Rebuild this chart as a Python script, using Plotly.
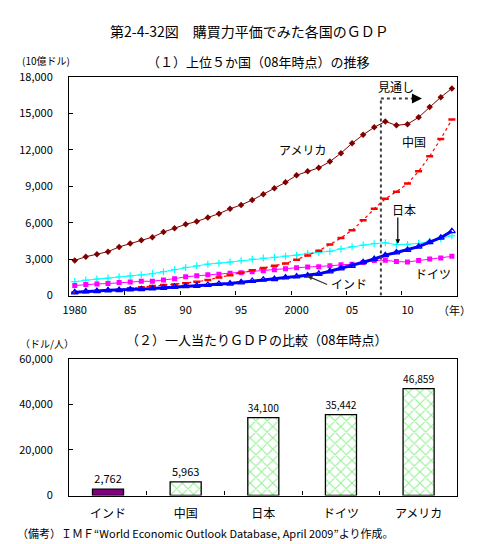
import plotly.graph_objects as go

W, H = 478, 544

years = list(range(1980, 2015))
usa = [2900, 3200, 3410, 3620, 4010, 4300, 4550, 4810, 5230, 5550,
       5870, 6110, 6430, 6750, 7150, 7470, 7870, 8360, 8840, 9330,
       9920, 10240, 10530, 11040, 11740, 12550, 13250, 13870, 14350, 14030,
       14130, 14690, 15540, 16350, 17070]
china = [260, 300, 340, 400, 480, 600, 680, 780, 880, 920,
         1020, 1130, 1290, 1480, 1680, 1880, 2080, 2280, 2450, 2650,
         2950, 3300, 3700, 4200, 4750, 5390, 6210, 7150, 7970, 8560,
         9230, 10240, 11490, 12910, 14510]
japan = [1150, 1280, 1360, 1440, 1550, 1630, 1710, 1810, 1970, 2130,
         2320, 2450, 2590, 2670, 2760, 2870, 3000, 3090, 3150, 3250,
         3330, 3470, 3550, 3650, 3840, 4030, 4160, 4280, 4350, 4190,
         4210, 4290, 4480, 4690, 4930]
germany = [830, 910, 960, 990, 1070, 1120, 1170, 1180, 1280, 1390,
           1550, 1630, 1710, 1760, 1840, 1890, 1970, 2050, 2130, 2210,
           2290, 2350, 2370, 2450, 2530, 2590, 2720, 2900, 2910, 2800,
           2770, 2880, 3010, 3090, 3230]
india = [270, 350, 370, 430, 450, 510, 530, 590, 640, 720,
         770, 800, 880, 960, 990, 1090, 1200, 1310, 1360, 1490,
         1570, 1650, 1790, 2000, 2240, 2450, 2750, 3010, 3330, 3550,
         3760, 4030, 4400, 4770, 5310]

x_tick_vals = [1980, 1985, 1990, 1995, 2000, 2005, 2010]
x_tick_text = ["1980", "85", "90", "95", "2000", "05", "10"]
y1_ticks = [0, 3000, 6000, 9000, 12000, 15000, 18000]
y1_text = ["0", "3,000", "6,000", "9,000", "12,000", "15,000", "18,000"]

bar_countries = ["インド", "中国", "日本", "ドイツ", "アメリカ"]
per_capita = [2762, 5963, 34100, 35442, 46859]
per_capita_text = ["2,762", "5,963", "34,100", "35,442", "46,859"]
y2_ticks = [0, 20000, 40000, 60000]
y2_text = ["0", "20,000", "40,000", "60,000"]

forecast_start = 2007.6

FONT = "Noto Sans CJK JP"


def px(x):
    return x / W


def py(y):
    return 1 - y / H


fig = go.Figure()

# Top chart lines
fig.add_trace(go.Scatter(x=years, y=japan, mode="lines+markers", name="日本",
                         line=dict(color="#00FFFF", width=1),
                         marker=dict(symbol="cross-thin", size=5, line=dict(color="#00FFFF", width=1.2)),
                         xaxis="x", yaxis="y"))
fig.add_trace(go.Scatter(x=years, y=germany, mode="lines+markers", name="ドイツ",
                         line=dict(color="#FF00FF", width=1),
                         marker=dict(symbol="square", size=5, color="#FF00FF"),
                         xaxis="x", yaxis="y"))
fig.add_trace(go.Scatter(x=years, y=china, mode="lines+markers", name="中国",
                         line=dict(color="#FF0000", width=1.2, dash="3px,3px"),
                         marker=dict(symbol="line-ew", size=5, line=dict(color="#FF0000", width=2.5)),
                         xaxis="x", yaxis="y"))
fig.add_trace(go.Scatter(x=years, y=india, mode="lines+markers", name="インド",
                         line=dict(color="#0000FF", width=3),
                         marker=dict(symbol="triangle-up-open", size=6, color="#0000FF", line=dict(width=1.2)),
                         xaxis="x", yaxis="y"))
fig.add_trace(go.Scatter(x=years, y=usa, mode="lines+markers", name="アメリカ",
                         line=dict(color="#800000", width=1),
                         marker=dict(symbol="diamond", size=5, color="#800000"),
                         xaxis="x", yaxis="y"))
# invisible trace on label axis
fig.add_trace(go.Scatter(x=[years[0]], y=[0], mode="markers", marker=dict(opacity=0),
                         showlegend=False, hoverinfo="skip", xaxis="x2", yaxis="y"))

# Bottom chart bars: India solid, others hatched
idx = list(range(len(bar_countries)))
fig.add_trace(go.Bar(x=idx[:1], y=per_capita[:1], width=0.4,
                     text=per_capita_text[:1], textposition="outside",
                     textfont=dict(family=FONT, size=11, color="black"),
                     cliponaxis=False,
                     marker=dict(color="#800080", line=dict(color="black", width=1.3)),
                     xaxis="x3", yaxis="y3"))
fig.add_trace(go.Bar(x=idx[1:], y=per_capita[1:], width=0.4,
                     text=per_capita_text[1:], textposition="outside",
                     textfont=dict(family=FONT, size=11, color="black"),
                     cliponaxis=False,
                     marker=dict(color="white", line=dict(color="black", width=1.3),
                                 pattern=dict(shape="x", fgcolor="#22E022", bgcolor="white",
                                              size=8, solidity=0.25)),
                     xaxis="x3", yaxis="y3"))
fig.add_trace(go.Scatter(x=[0], y=[0], mode="markers", marker=dict(opacity=0),
                         showlegend=False, hoverinfo="skip", xaxis="x4", yaxis="y3"))

axis_common = dict(showgrid=False, zeroline=False, linecolor="black", linewidth=1.3,
                   mirror=True, tickfont=dict(family=FONT, size=11, color="black"))

top_dom = [py(287), py(62)]
bot_dom = [py(493), py(352)]
xdom = [px(55), px(449)]

fig.update_layout(
    width=W, height=H, margin=dict(l=0, r=0, t=0, b=0),
    paper_bgcolor="white", plot_bgcolor="white", showlegend=False,
    barmode="overlay",
    font=dict(family=FONT, color="black"),
    xaxis=dict(domain=xdom, range=[1979.5, 2014.5], anchor="y",
               tickvals=[1984.5, 1989.5, 1994.5, 1999.5, 2004.5, 2009.5],
               ticks="inside", ticklen=4, tickcolor="black", showticklabels=False,
               **axis_common),
    xaxis2=dict(overlaying="x", range=[1979.5, 2014.5], anchor="y",
                tickvals=x_tick_vals, ticktext=x_tick_text, ticks="", side="bottom",
                showgrid=False, zeroline=False, showline=False, ticklabelstandoff=6,
                tickfont=dict(family=FONT, size=11, color="black")),
    yaxis=dict(domain=top_dom, range=[0, 18000], anchor="x",
               tickvals=y1_ticks, ticktext=y1_text, ticks="inside", ticklen=4,
               tickcolor="black", ticklabelstandoff=13, **axis_common),
    xaxis3=dict(domain=xdom, range=[-0.5, 4.5], anchor="y3",
                tickvals=[0.5, 1.5, 2.5, 3.5], ticks="inside", ticklen=4,
                tickcolor="black", showticklabels=False, **axis_common),
    xaxis4=dict(overlaying="x3", range=[-0.5, 4.5], anchor="y3",
                tickvals=idx, ticktext=bar_countries,
                ticks="", side="bottom", showgrid=False, zeroline=False, showline=False,
                ticklabelstandoff=9,
                tickfont=dict(family=FONT, size=12, color="black")),
    yaxis3=dict(domain=bot_dom, range=[0, 60000], anchor="x3",
                tickvals=y2_ticks, ticktext=y2_text, ticks="inside", ticklen=4,
                tickcolor="black", ticklabelstandoff=13, **axis_common),
)

# Forecast dotted lines
fig.add_shape(type="line", xref="x", yref="y", x0=forecast_start, x1=forecast_start,
              y0=0, y1=16250, line=dict(color="#404040", width=2, dash="dot"))
fig.add_shape(type="line", xref="x", yref="y", x0=forecast_start, x1=2010.6,
              y0=16250, y1=16250, line=dict(color="#404040", width=2, dash="dot"))

ann = []


def text(x, y, s, size=12, xanchor="center"):
    ann.append(dict(x=px(x), y=py(y), xref="paper", yref="paper", text=s, showarrow=False,
                    xanchor=xanchor, yanchor="middle",
                    font=dict(family=FONT, size=size, color="black")))


text(238, 14, "第2-4-32図　購買力平価でみた各国のＧＤＰ", 14)
text(247, 46, "（１）上位５か国（08年時点）の推移", 13)
text(5, 45, "(10億ドル)", 10, "left")
text(446, 302, "（年）", 11)
text(245, 332, "（２）一人当たりＧＤＰの比較（08年時点）", 13)
text(3, 336, "（ドル/人）", 10, "left")
text(0, 532, "（備考）ＩＭＦ“World Economic Outlook Database, April 2009”より作成。", 11, "left")

text(292, 136, "アメリカ", 12)
text(405, 128, "中国", 12)
text(395, 198, "日本", 12)
text(424, 264, "ドイツ", 12)
text(339, 275, "インド", 12)
text(387, 72, "見通し", 12)

# arrow for 見通し
ann.append(dict(x=2011.3, y=16250, xref="x", yref="y", ax=-10, ay=0,
                text="", showarrow=True, arrowhead=2,
                arrowsize=1, arrowwidth=2, arrowcolor="black"))
# arrow for 日本
ann.append(dict(x=px(388.5), y=py(234), xref="paper", yref="paper",
                ax=0, ay=-28,
                text="", showarrow=True, arrowhead=2, arrowsize=0.8, arrowwidth=1.2,
                arrowcolor="black"))
# arrow for インド
ann.append(dict(x=px(297), y=py(267), xref="paper", yref="paper",
                ax=21, ay=9,
                text="", showarrow=True, arrowhead=2, arrowsize=0.8, arrowwidth=1.2,
                arrowcolor="#333333"))

fig.update_layout(annotations=ann)

fig.write_html("out.html")
